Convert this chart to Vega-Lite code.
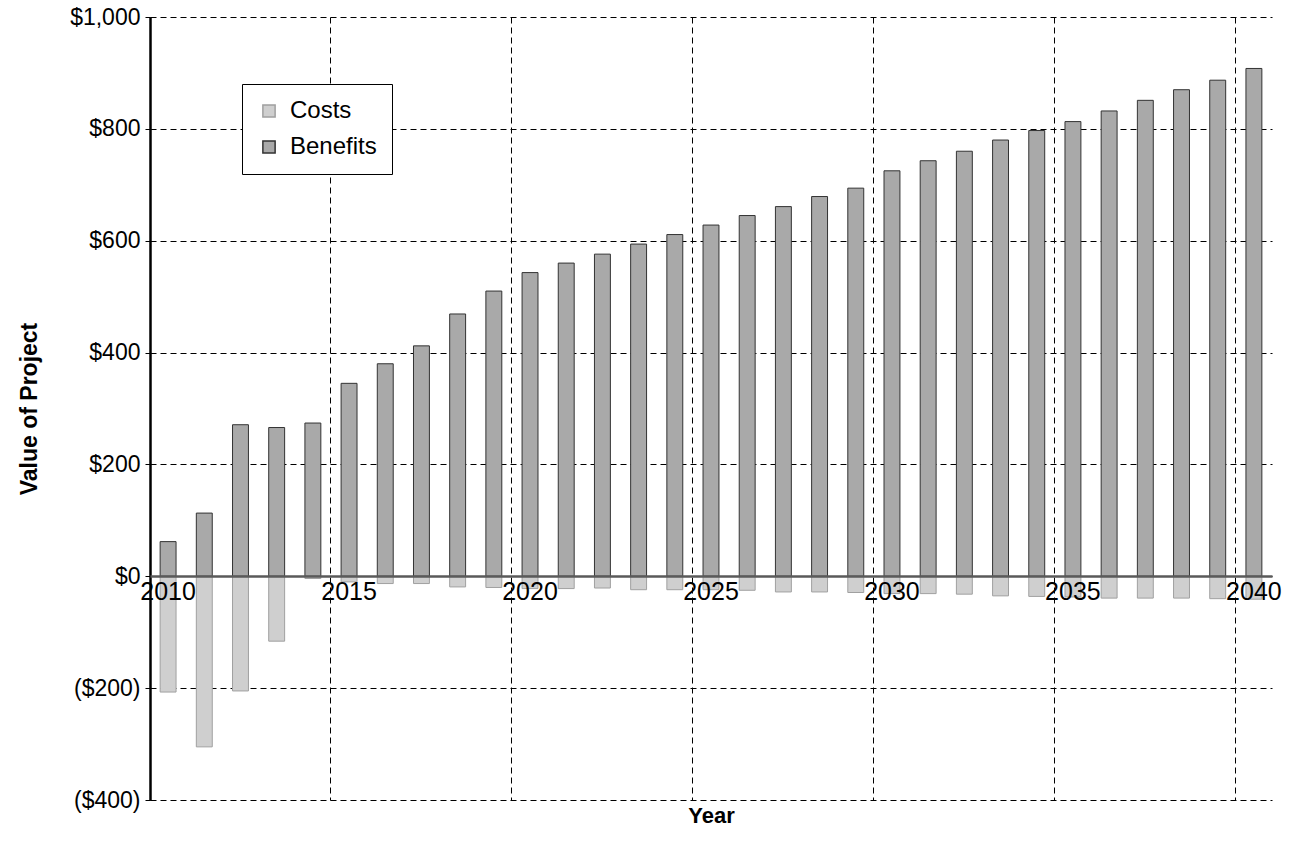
{
  "$schema": "https://vega.github.io/schema/vega-lite/v6.json",
  "width": 1122,
  "height": 783,
  "autosize": {"type": "none"},
  "padding": {"left": 150, "top": 17, "right": 24, "bottom": 49},
  "background": "white",
  "config": {"view": {"stroke": null}, "font": "Liberation Sans"},
  "data": {
    "values": [
      {"year": 2010, "series": "Costs", "value": -207}, {"year": 2010, "series": "Benefits", "value": 62},
      {"year": 2011, "series": "Costs", "value": -305}, {"year": 2011, "series": "Benefits", "value": 113},
      {"year": 2012, "series": "Costs", "value": -205}, {"year": 2012, "series": "Benefits", "value": 271},
      {"year": 2013, "series": "Costs", "value": -116}, {"year": 2013, "series": "Benefits", "value": 266},
      {"year": 2014, "series": "Costs", "value": -4}, {"year": 2014, "series": "Benefits", "value": 274},
      {"year": 2015, "series": "Costs", "value": -10}, {"year": 2015, "series": "Benefits", "value": 345},
      {"year": 2016, "series": "Costs", "value": -13}, {"year": 2016, "series": "Benefits", "value": 380},
      {"year": 2017, "series": "Costs", "value": -13}, {"year": 2017, "series": "Benefits", "value": 412},
      {"year": 2018, "series": "Costs", "value": -19}, {"year": 2018, "series": "Benefits", "value": 469},
      {"year": 2019, "series": "Costs", "value": -20}, {"year": 2019, "series": "Benefits", "value": 510},
      {"year": 2020, "series": "Costs", "value": -22}, {"year": 2020, "series": "Benefits", "value": 543},
      {"year": 2021, "series": "Costs", "value": -22}, {"year": 2021, "series": "Benefits", "value": 560},
      {"year": 2022, "series": "Costs", "value": -21}, {"year": 2022, "series": "Benefits", "value": 576},
      {"year": 2023, "series": "Costs", "value": -24}, {"year": 2023, "series": "Benefits", "value": 594},
      {"year": 2024, "series": "Costs", "value": -24}, {"year": 2024, "series": "Benefits", "value": 611},
      {"year": 2025, "series": "Costs", "value": -24}, {"year": 2025, "series": "Benefits", "value": 628},
      {"year": 2026, "series": "Costs", "value": -25}, {"year": 2026, "series": "Benefits", "value": 645},
      {"year": 2027, "series": "Costs", "value": -28}, {"year": 2027, "series": "Benefits", "value": 661},
      {"year": 2028, "series": "Costs", "value": -28}, {"year": 2028, "series": "Benefits", "value": 679},
      {"year": 2029, "series": "Costs", "value": -29}, {"year": 2029, "series": "Benefits", "value": 694},
      {"year": 2030, "series": "Costs", "value": -31}, {"year": 2030, "series": "Benefits", "value": 725},
      {"year": 2031, "series": "Costs", "value": -31}, {"year": 2031, "series": "Benefits", "value": 743},
      {"year": 2032, "series": "Costs", "value": -32}, {"year": 2032, "series": "Benefits", "value": 760},
      {"year": 2033, "series": "Costs", "value": -35}, {"year": 2033, "series": "Benefits", "value": 780},
      {"year": 2034, "series": "Costs", "value": -36}, {"year": 2034, "series": "Benefits", "value": 797},
      {"year": 2035, "series": "Costs", "value": -37}, {"year": 2035, "series": "Benefits", "value": 813},
      {"year": 2036, "series": "Costs", "value": -39}, {"year": 2036, "series": "Benefits", "value": 832},
      {"year": 2037, "series": "Costs", "value": -39}, {"year": 2037, "series": "Benefits", "value": 851},
      {"year": 2038, "series": "Costs", "value": -39}, {"year": 2038, "series": "Benefits", "value": 870},
      {"year": 2039, "series": "Costs", "value": -40}, {"year": 2039, "series": "Benefits", "value": 887},
      {"year": 2040, "series": "Costs", "value": -41}, {"year": 2040, "series": "Benefits", "value": 908}
    ]
  },
  "layer": [
    {
      "mark": {"type": "bar", "width": {"band": 0.44}, "strokeWidth": 1},
      "encoding": {
        "x": {
          "field": "year",
          "type": "ordinal",
          "scale": {"paddingInner": 0, "paddingOuter": 0},
          "axis": {
            "orient": "bottom",
            "values": [2010, 2015, 2020, 2025, 2030, 2035, 2040],
            "bandPosition": 0,
            "labels": false,
            "ticks": false,
            "domain": false,
            "title": null,
            "grid": true,
            "gridColor": "black",
            "gridDash": [6, 4],
            "gridWidth": 1,
            "gridOpacity": 1,
            "zindex": 0
          }
        },
        "y": {
          "field": "value",
          "type": "quantitative",
          "stack": null,
          "scale": {"domain": [-400, 1000], "nice": false},
          "axis": {
            "values": [-400, -200, 0, 200, 400, 600, 800, 1000],
            "labelExpr": "datum.value < 0 ? '($' + format(-datum.value, ',') + ')' : '$' + format(datum.value, ',')",
            "grid": true,
            "gridColor": "black",
            "gridDash": [6, 4],
            "gridWidth": 1,
            "gridOpacity": 1,
            "domainColor": "black",
            "domainWidth": 2.5,
            "tickColor": "black",
            "tickSize": 5,
            "labelFontSize": 23,
            "labelColor": "black",
            "labelPadding": 5,
            "title": "Value of Project",
            "titleFontSize": 23,
            "titleFontWeight": "bold",
            "titleColor": "black",
            "titlePadding": 28
          }
        },
        "color": {
          "field": "series",
          "type": "nominal",
          "scale": {"domain": ["Costs", "Benefits"], "range": ["#cfcfcf", "#a9a9a9"]},
          "legend": {
            "orient": "none",
            "legendX": 92,
            "legendY": 67,
            "title": null,
            "fillColor": "white",
            "strokeColor": "black",
            "padding": 15,
            "labelFontSize": 24,
            "labelColor": "black",
            "symbolType": "square",
            "symbolSize": 150,
            "rowPadding": 12,
            "labelOffset": 9
          }
        },
        "stroke": {
          "field": "series",
          "type": "nominal",
          "scale": {"domain": ["Costs", "Benefits"], "range": ["#a0a0a0", "#333333"]},
          "legend": null
        }
      }
    },
    {
      "mark": {"type": "bar", "width": {"band": 0.44}, "opacity": 0},
      "encoding": {
        "x": {
          "field": "year",
          "type": "ordinal",
          "axis": {
            "orient": "bottom",
            "values": [2010, 2015, 2020, 2025, 2030, 2035, 2040],
            "labelAngle": 0,
            "labelAlign": "center",
            "offset": -224,
            "ticks": false,
            "grid": false,
            "domainColor": "#5a5a5a",
            "domainWidth": 2.5,
            "labelFontSize": 25,
            "labelColor": "black",
            "labelPadding": 3,
            "title": "Year",
            "titleFontSize": 22,
            "titleFontWeight": "bold",
            "titleColor": "black",
            "titleY": 239,
            "titleBaseline": "middle",
            "zindex": 1
          }
        },
        "y": {"field": "value", "type": "quantitative", "stack": null}
      }
    }
  ],
  "resolve": {"axis": {"x": "independent"}}
}
